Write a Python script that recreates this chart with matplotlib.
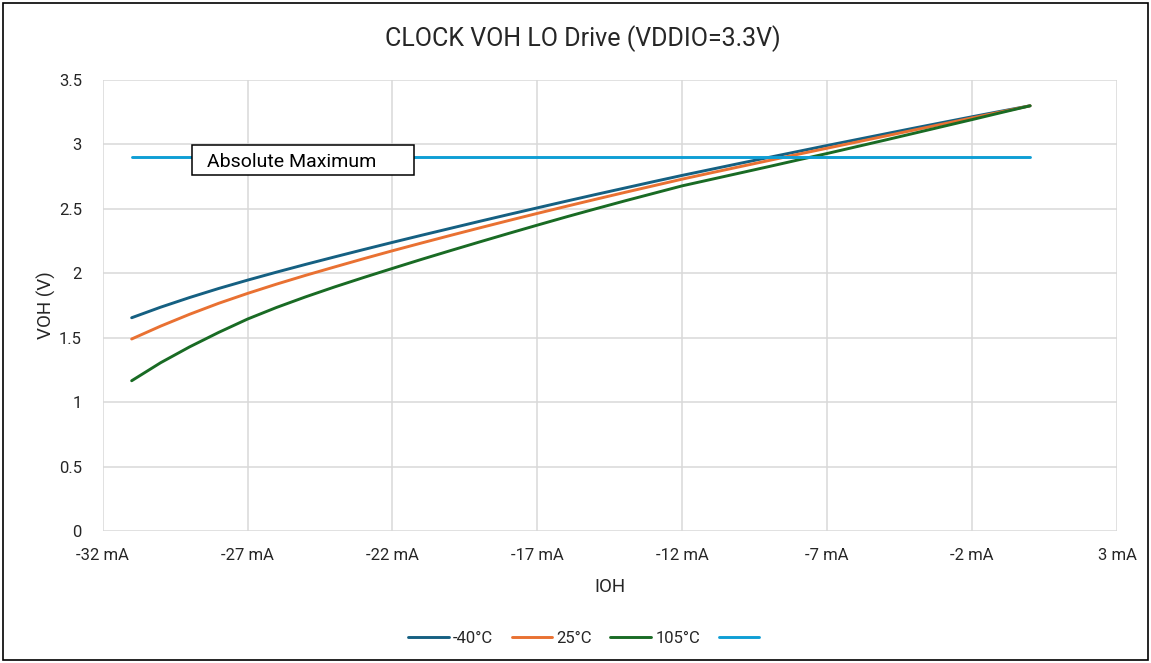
import matplotlib
matplotlib.use("Agg")
import matplotlib.pyplot as plt
from matplotlib.patches import Rectangle

plt.rcParams['font.family'] = ['Roboto', 'DejaVu Sans']

# Data
ioh = [-31, -30, -29, -28, -27, -26, -25, -24, -23, -22, -21, -20, -19, -18, -17, -16,
       -15, -14, -13, -12, -11, -10, -9, -8, -7, -6, -5, -4, -3, -2, -1, 0]
voh_m40 = [1.655, 1.737, 1.812, 1.882, 1.947, 2.009, 2.069, 2.127, 2.184, 2.240, 2.295,
           2.349, 2.403, 2.456, 2.508, 2.560, 2.611, 2.661, 2.711, 2.760, 2.807, 2.854,
           2.900, 2.946, 2.992, 3.037, 3.082, 3.127, 3.171, 3.215, 3.258, 3.300]
voh_25 = [1.490, 1.590, 1.682, 1.767, 1.844, 1.916, 1.984, 2.049, 2.113, 2.175, 2.235,
          2.294, 2.352, 2.409, 2.465, 2.520, 2.574, 2.627, 2.679, 2.731, 2.780, 2.828,
          2.876, 2.924, 2.971, 3.018, 3.065, 3.112, 3.159, 3.206, 3.253, 3.300]
voh_105 = [1.166, 1.306, 1.429, 1.541, 1.645, 1.735, 1.817, 1.894, 1.967, 2.038, 2.108,
           2.176, 2.243, 2.309, 2.374, 2.438, 2.500, 2.561, 2.620, 2.679, 2.729, 2.779,
           2.829, 2.880, 2.930, 2.982, 3.034, 3.087, 3.140, 3.193, 3.247, 3.300]
absmax_x = [-31, 0]
absmax_y = [2.9, 2.9]
series_labels = ['-40°C', '25°C', '105°C', '']
x_ticks = list(range(-32, 4, 5))
x_ticklabels = [f"{v} mA" for v in x_ticks]
y_ticks = [0, 0.5, 1, 1.5, 2, 2.5, 3, 3.5]
y_ticklabels = ['0', '0.5', '1', '1.5', '2', '2.5', '3', '3.5']

colors = ['#156082', '#E97132', '#196B24', '#0F9ED5']
txt = '#262626'

fig = plt.figure(figsize=(11.51, 6.63), dpi=100)
ax = fig.add_axes([0.0892, 0.1991, 0.9705 - 0.0892, 0.8793 - 0.1991])

handles = []
for y, c in zip([voh_m40, voh_25, voh_105], colors[:3]):
    h, = ax.plot(ioh, y, color=c, lw=2.1, solid_capstyle='round', solid_joinstyle='round')
    handles.append(h)
h, = ax.plot(absmax_x, absmax_y, color=colors[3], lw=2.1, solid_capstyle='round')
handles.append(h)

ax.set_xlim(-32, 3)
ax.set_ylim(0, 3.5)
ax.set_xticks(x_ticks)
ax.set_xticklabels(x_ticklabels)
ax.set_yticks(y_ticks)
ax.set_yticklabels(y_ticklabels)
ax.tick_params(length=0, labelsize=12, colors=txt)
ax.tick_params(axis='x', pad=12)
ax.tick_params(axis='y', pad=15)
ax.grid(True, color='#D9D9D9', lw=1.1)
ax.set_axisbelow(True)
for s in ax.spines.values():
    s.set_visible(False)

ax.set_xlabel('IOH', fontsize=13.5, color=txt, labelpad=11)
ax.set_ylabel('VOH (V)', fontsize=13.5, color=txt, labelpad=2)

fig.text(0.5065, 0.942, 'CLOCK VOH LO Drive (VDDIO=3.3V)', ha='center', va='center',
         fontsize=18, color=txt)

# Absolute Maximum label box
ax.add_patch(Rectangle((-28.92, 2.76), 7.66, 0.237, fc='white', ec='black', lw=1.1, zorder=5))
ax.text(-28.41, 2.865, 'Absolute Maximum', fontsize=14, color='black', ha='left', va='center',
        zorder=6)

leg = fig.legend(handles, series_labels, loc='center', bbox_to_anchor=(0.509, 0.037), ncol=4,
                 frameon=False, fontsize=12, handlelength=2.45, columnspacing=1.1,
                 handletextpad=0.25)
for t in leg.get_texts():
    t.set_color(txt)

fig.patches.append(Rectangle((0.003, 0.004), 0.994, 0.992, transform=fig.transFigure,
                             fill=False, ec='black', lw=1.2))

fig.savefig('out.png', dpi=100)
